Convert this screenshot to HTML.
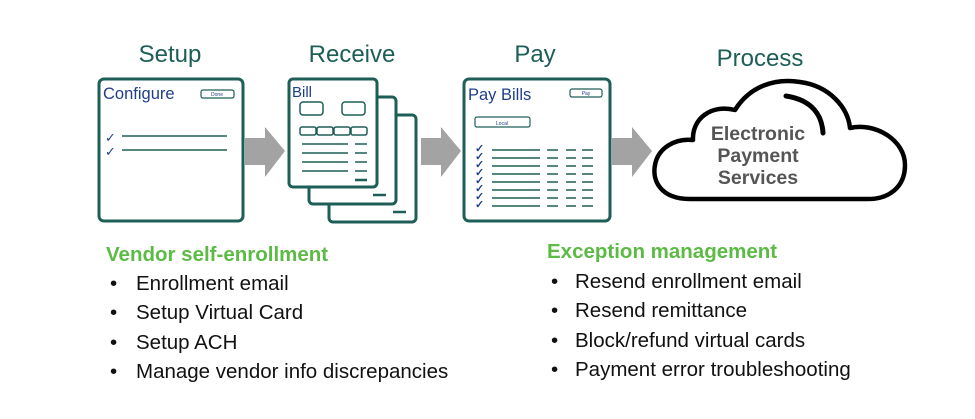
<!DOCTYPE html>
<html><head><meta charset="utf-8"><style>
html,body{margin:0;padding:0;background:#fff;}
svg{display:block;font-family:"Liberation Sans",Arial,sans-serif;}
</style></head><body>
<svg width="975" height="419" viewBox="0 0 975 419" xmlns="http://www.w3.org/2000/svg">
<g fill="#1d5e57" font-size="24" text-anchor="middle">
<text x="170" y="62">Setup</text>
<text x="352" y="62">Receive</text>
<text x="535" y="62">Pay</text>
<text x="760" y="66">Process</text>
</g>
<g fill="#a3a3a3">
<polygon points="245,138 265,138 265,127 285,151 265,177 265,165 245,165"/>
<polygon points="421,138 441,138 441,127 461,151 441,177 441,165 421,165"/>
<polygon points="612,138 632,138 632,127 652,151 632,177 632,165 612,165"/>
</g>
<g stroke="#1d5e57" fill="none">
<rect x="99" y="79" width="144" height="142" rx="5" stroke-width="3" fill="#fff"/>
<rect x="201" y="90" width="33" height="8" rx="2" stroke-width="1.2"/>
<line x1="122" y1="136" x2="227" y2="136" stroke-width="1.5"/>
<line x1="122" y1="150" x2="227" y2="150" stroke-width="1.5"/>
</g>
<text x="103" y="99" fill="#1f3f8a" font-size="16.5">Configure</text>
<text x="217" y="96" fill="#1f3f8a" font-size="5" text-anchor="middle">Done</text>
<text x="105" y="142" fill="#1f3f8a" font-size="13">✓</text>
<text x="105" y="156" fill="#1f3f8a" font-size="13">✓</text>
<g stroke="#1d5e57" fill="#fff">
<rect x="329" y="115" width="87" height="107" rx="4" stroke-width="3"/>
<rect x="309" y="97" width="87" height="107" rx="4" stroke-width="3"/>
<rect x="289" y="79" width="88" height="108" rx="4" stroke-width="3"/>
</g>
<g stroke="#1d5e57" fill="none" stroke-width="1.5">
<rect x="300" y="102" width="23" height="13" rx="3"/>
<rect x="342" y="102" width="23" height="13" rx="3"/>
<rect x="300" y="127" width="16" height="8" rx="2"/>
<rect x="317" y="127" width="16" height="8" rx="2"/>
<rect x="334" y="127" width="16" height="8" rx="2"/>
<rect x="351" y="127" width="16" height="8" rx="2"/>
<line x1="302" y1="144" x2="348" y2="144"/><line x1="355" y1="144" x2="367" y2="144"/>
<line x1="302" y1="153" x2="348" y2="153"/><line x1="355" y1="153" x2="367" y2="153"/>
<line x1="302" y1="162" x2="348" y2="162"/><line x1="355" y1="162" x2="367" y2="162"/>
<line x1="302" y1="171" x2="348" y2="171"/><line x1="355" y1="171" x2="367" y2="171"/>
<line x1="355" y1="180" x2="367" y2="180" stroke-width="2.5"/>
<line x1="373" y1="195" x2="386" y2="195" stroke-width="2.5"/>
<line x1="393" y1="212" x2="406" y2="212" stroke-width="2.5"/>
</g>
<text x="292" y="97" fill="#1f3f8a" font-size="15">Bill</text>
<g stroke="#1d5e57" fill="none">
<rect x="464" y="79" width="146" height="142" rx="5" stroke-width="3" fill="#fff"/>
<rect x="570" y="89" width="32" height="8" rx="2" stroke-width="1.2"/>
<rect x="475" y="117" width="55" height="10" rx="2" stroke-width="1.2"/>
<g stroke-width="1.5">
<line x1="492" y1="150" x2="540" y2="150"/><line x1="547" y1="150" x2="558" y2="150"/><line x1="566" y1="150" x2="576" y2="150"/><line x1="582" y1="150" x2="593" y2="150"/>
<line x1="492" y1="158" x2="540" y2="158"/><line x1="547" y1="158" x2="558" y2="158"/><line x1="566" y1="158" x2="576" y2="158"/><line x1="582" y1="158" x2="593" y2="158"/>
<line x1="492" y1="166" x2="540" y2="166"/><line x1="547" y1="166" x2="558" y2="166"/><line x1="566" y1="166" x2="576" y2="166"/><line x1="582" y1="166" x2="593" y2="166"/>
<line x1="492" y1="174" x2="540" y2="174"/><line x1="547" y1="174" x2="558" y2="174"/><line x1="566" y1="174" x2="576" y2="174"/><line x1="582" y1="174" x2="593" y2="174"/>
<line x1="492" y1="182" x2="540" y2="182"/><line x1="547" y1="182" x2="558" y2="182"/><line x1="566" y1="182" x2="576" y2="182"/><line x1="582" y1="182" x2="593" y2="182"/>
<line x1="492" y1="190" x2="540" y2="190"/><line x1="547" y1="190" x2="558" y2="190"/><line x1="566" y1="190" x2="576" y2="190"/><line x1="582" y1="190" x2="593" y2="190"/>
<line x1="492" y1="198" x2="540" y2="198"/><line x1="547" y1="198" x2="558" y2="198"/><line x1="566" y1="198" x2="576" y2="198"/><line x1="582" y1="198" x2="593" y2="198"/>
<line x1="492" y1="206" x2="540" y2="206"/><line x1="547" y1="206" x2="558" y2="206"/><line x1="566" y1="206" x2="576" y2="206"/><line x1="582" y1="206" x2="593" y2="206"/>
</g>
</g>
<text x="468" y="100" fill="#1f3f8a" font-size="16.5">Pay Bills</text>
<text x="586" y="95" fill="#1f3f8a" font-size="5" text-anchor="middle">Pay</text>
<text x="502" y="125" fill="#1f3f8a" font-size="5" text-anchor="middle">Local</text>
<g fill="#1f3f8a" font-size="11" font-weight="bold">
<text x="475" y="152">✓</text><text x="475" y="160">✓</text><text x="475" y="168">✓</text><text x="475" y="176">✓</text>
<text x="475" y="184">✓</text><text x="475" y="192">✓</text><text x="475" y="200">✓</text><text x="475" y="208">✓</text>
</g>
<path d="M690,199 C660,199 652,180 655,165 C658,148 675,138 693,140 C692,118 712,104 735,110 C750,86 775,78 800,82 C830,86 848,108 850,128 C875,122 905,140 905,165 C905,188 888,199 868,199 Z" fill="#fff" stroke="#000" stroke-width="4.5" stroke-linejoin="round"/>
<path d="M786,96 C812,100 822,115 823,133" fill="none" stroke="#000" stroke-width="5" stroke-linecap="round"/>
<g fill="#555" font-size="19.5" font-weight="bold" text-anchor="middle">
<text x="758" y="140">Electronic</text>
<text x="758" y="162">Payment</text>
<text x="758" y="184">Services</text>
</g>
<g font-size="20.5">
<text x="106" y="261" fill="#5cbb45" font-weight="bold">Vendor self-enrollment</text>
<g fill="#111">
<text x="110" y="290">•</text><text x="136" y="290">Enrollment email</text>
<text x="110" y="319">•</text><text x="136" y="319">Setup Virtual Card</text>
<text x="110" y="349">•</text><text x="136" y="349">Setup ACH</text>
<text x="110" y="378">•</text><text x="136" y="378">Manage vendor info discrepancies</text>
</g>
<text x="547" y="258" fill="#5cbb45" font-weight="bold">Exception management</text>
<g fill="#111">
<text x="551" y="288">•</text><text x="575" y="288">Resend enrollment email</text>
<text x="551" y="317">•</text><text x="575" y="317">Resend remittance</text>
<text x="551" y="347">•</text><text x="575" y="347">Block/refund virtual cards</text>
<text x="551" y="376">•</text><text x="575" y="376">Payment error troubleshooting</text>
</g>
</g>
</svg>
</body></html>
